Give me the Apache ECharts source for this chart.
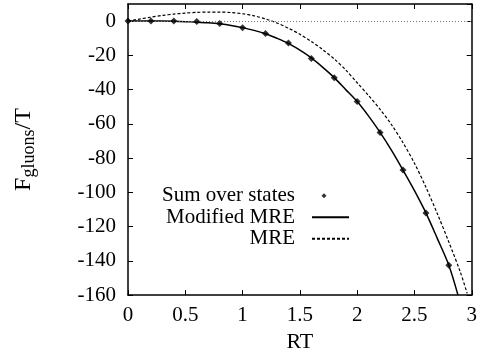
<!DOCTYPE html>
<html>
<head>
<meta charset="utf-8">
<script src="https://cdn.jsdelivr.net/npm/echarts@6/dist/echarts.min.js"></script>
<style>
html,body{margin:0;padding:0;background:#fff;}
#c{width:480px;height:358px;}
</style>
</head>
<body>
<div id="c"></div>
<script>
// Sum over states (points)
var stateX = [0, 0.2, 0.4, 0.6, 0.8, 1.0, 1.2, 1.4, 1.6, 1.8, 2.0, 2.2, 2.4, 2.6, 2.8];
var stateY = [0, 0, 0, -0.2, -1.4, -3.9, -7.3, -12.8, -21.8, -33, -47, -65, -87, -112, -142.6];
// Modified MRE (solid curve)
var modX = [0, 0.1, 0.2, 0.3, 0.4, 0.5, 0.6, 0.7, 0.8, 0.9, 1.0, 1.1, 1.2, 1.3, 1.4, 1.5, 1.6, 1.7, 1.8, 1.9, 2.0, 2.1, 2.2, 2.3, 2.4, 2.5, 2.6, 2.7, 2.8, 2.88];
var modY = [0, 0, 0, 0, -0.1, -0.3, -0.6, -1.0, -1.6, -2.5, -3.8, -5.4, -7.4, -10, -13, -17, -21.5, -27, -33, -40, -47, -55.5, -65, -75.5, -87, -99, -112, -127, -142.5, -160];
// MRE (dashed curve)
var mreX = [0, 0.1, 0.2, 0.3, 0.4, 0.5, 0.6, 0.7, 0.8, 0.9, 1.0, 1.1, 1.2, 1.3, 1.4, 1.5, 1.6, 1.7, 1.8, 1.9, 2.0, 2.1, 2.2, 2.3, 2.4, 2.5, 2.6, 2.7, 2.8, 2.9, 2.96];
var mreY = [0, 1.2, 2.3, 3.3, 4.1, 4.7, 5.1, 5.3, 5.3, 5.0, 4.3, 3.1, 1.3, -1.1, -4.1, -7.7, -11.9, -16.7, -22.1, -28.5, -36, -43.5, -51.5, -60.5, -71, -83, -97, -112.5, -129, -146.5, -159];
// Axis ticks
var xTicks = {min: 0, max: 3, interval: 0.5};
var yTicks = {min: -160, max: 10, interval: 20};
var legendNames = ['Sum over states', 'Modified MRE', 'MRE'];

function pairs(xs, ys) { return xs.map(function (x, i) { return [x, ys[i]]; }); }

var FONT = 'Liberation Serif';
var chart = echarts.init(document.getElementById('c'), null, {renderer: 'canvas'});
var axisLine = {show: true, onZero: false, lineStyle: {color: '#000', width: 1.5}};
var tick = {show: true, inside: true, length: 5, lineStyle: {color: '#000', width: 1}};
chart.setOption({
  animation: false,
  backgroundColor: '#fff',
  grid: {left: 122, right: 3, top: 4, bottom: 60},
  legend: {
    orient: 'vertical',
    align: 'right',
    right: 130,
    top: 185,
    padding: 0,
    itemGap: 0,
    itemWidth: 37,
    itemHeight: 6,
    selectedMode: false,
    data: [
      {name: legendNames[0], icon: 'path://M0,0M37,6M9.5,3L12,0.5L14.5,3L12,5.5Z'},
      {name: legendNames[1], itemStyle: {opacity: 0}},
      {name: legendNames[2], itemStyle: {opacity: 0}}
    ],
    textStyle: {fontFamily: FONT, fontSize: 21, color: '#000', lineHeight: 21.5, padding: [0, 12, 0, 0]}
  },
  xAxis: [{
    type: 'value', min: xTicks.min, max: xTicks.max, interval: xTicks.interval,
    name: 'RT', nameLocation: 'middle', nameGap: 28,
    nameTextStyle: {fontFamily: FONT, fontSize: 22, color: '#000'},
    axisLine: axisLine, axisTick: tick,
    axisLabel: {fontFamily: FONT, fontSize: 21, color: '#000', margin: 10},
    splitLine: {show: false}
  }, {
    type: 'value', position: 'top', min: xTicks.min, max: xTicks.max, interval: xTicks.interval,
    axisLine: axisLine, axisTick: tick,
    axisLabel: {show: false}, splitLine: {show: false}
  }],
  yAxis: [{
    type: 'value', min: yTicks.min, max: yTicks.max, interval: yTicks.interval,
    name: '{f|F}{s|gluons}{f|/T}', nameLocation: 'middle', nameGap: 90,
    nameTextStyle: {
      fontFamily: FONT, fontSize: 24, color: '#000',
      rich: {
        f: {fontFamily: FONT, fontSize: 24, color: '#000', lineHeight: 26, verticalAlign: 'top'},
        s: {fontFamily: FONT, fontSize: 18, color: '#000', lineHeight: 18, padding: [12, 0, 0, 0], verticalAlign: 'bottom'}
      }
    },
    axisLine: axisLine, axisTick: tick,
    axisLabel: {fontFamily: FONT, fontSize: 21, color: '#000', margin: 12, showMaxLabel: false},
    splitLine: {show: false}
  }, {
    type: 'value', position: 'right', min: yTicks.min, max: yTicks.max, interval: yTicks.interval,
    axisLine: axisLine, axisTick: tick,
    axisLabel: {show: false}, splitLine: {show: false}
  }],
  series: [{
    name: 'Modified MRE', type: 'line', data: pairs(modX, modY), smooth: 0.3,
    symbol: 'none', lineStyle: {color: '#000', width: 1.5}, itemStyle: {color: '#000'},
    markLine: {
      silent: true, symbol: 'none', label: {show: false},
      lineStyle: {color: '#777', type: [1, 2], width: 1},
      data: [{yAxis: 0}]
    }
  }, {
    name: 'MRE', type: 'line', data: pairs(mreX, mreY), smooth: 0.3,
    symbol: 'none', lineStyle: {color: '#000', width: 1.2, type: [3, 2]}, itemStyle: {color: '#000'}
  }, {
    name: 'Sum over states', type: 'scatter', data: pairs(stateX, stateY),
    symbol: 'diamond', symbolSize: 7, itemStyle: {color: '#000'}, z: 5
  }]
});
</script>
</body>
</html>
